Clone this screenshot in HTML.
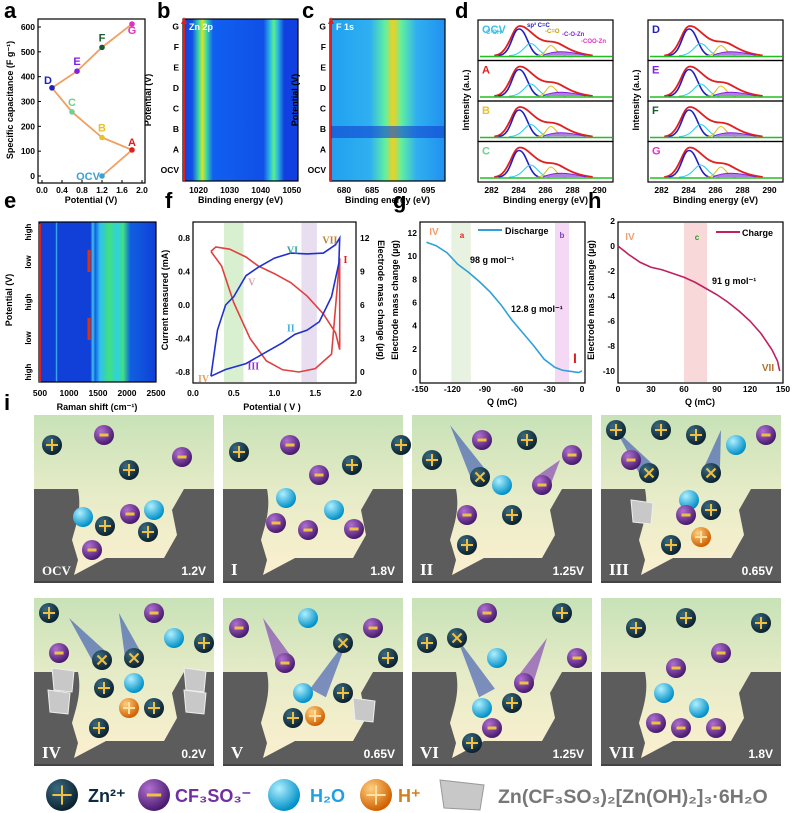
<!DOCTYPE html>
<html><head><meta charset="utf-8"><style>
body{margin:0;background:#fff;}
svg{display:block;font-family:"Liberation Sans",Arial,sans-serif;}
text{font-weight:bold;}
</style></head><body>
<svg id="fig" width="799" height="813" viewBox="0 0 799 813" xmlns="http://www.w3.org/2000/svg">
<defs>
<linearGradient id="zn" x1="0" x2="1" y1="0" y2="0">
<stop offset="0" stop-color="#1040e0"/><stop offset="0.08" stop-color="#1050e8"/><stop offset="0.14" stop-color="#40e0a0"/><stop offset="0.17" stop-color="#e0e020"/><stop offset="0.2" stop-color="#40e0a0"/><stop offset="0.26" stop-color="#1060f0"/><stop offset="0.7" stop-color="#1050e8"/><stop offset="0.76" stop-color="#30c0e0"/><stop offset="0.79" stop-color="#60f080"/><stop offset="0.82" stop-color="#30c0e0"/><stop offset="0.88" stop-color="#1040e0"/><stop offset="1" stop-color="#1040e0"/></linearGradient>
<linearGradient id="f1" x1="0" x2="1" y1="0" y2="0">
<stop offset="0" stop-color="#20a0f0"/><stop offset="0.35" stop-color="#30b0f0"/><stop offset="0.48" stop-color="#60f0a0"/><stop offset="0.55" stop-color="#f0d020"/><stop offset="0.62" stop-color="#60f0a0"/><stop offset="0.75" stop-color="#30b0f0"/><stop offset="1" stop-color="#2090f0"/></linearGradient>
<linearGradient id="ram" x1="0" x2="1" y1="0" y2="0">
<stop offset="0" stop-color="#1040d8"/><stop offset="0.14" stop-color="#1040d8"/><stop offset="0.15" stop-color="#40c0f0"/><stop offset="0.16" stop-color="#1040d8"/><stop offset="0.44" stop-color="#1040d8"/><stop offset="0.46" stop-color="#40c0f0"/><stop offset="0.48" stop-color="#1060e0"/><stop offset="0.52" stop-color="#30c0f0"/><stop offset="0.6" stop-color="#40e080"/><stop offset="0.67" stop-color="#30d0e0"/><stop offset="0.72" stop-color="#40e080"/><stop offset="0.78" stop-color="#1060e0"/><stop offset="1" stop-color="#1040d8"/></linearGradient>
<linearGradient id="sol" x1="0" x2="0" y1="0" y2="1"><stop offset="0" stop-color="#c8e2b8"/><stop offset="0.5" stop-color="#e8ecc8"/><stop offset="1" stop-color="#fdf0d0"/></linearGradient>
<radialGradient id="gZn" cx="0.35" cy="0.3" r="0.7"><stop offset="0" stop-color="#3a6a80"/><stop offset="1" stop-color="#0c2230"/></radialGradient>
<radialGradient id="gCF" cx="0.35" cy="0.3" r="0.7"><stop offset="0" stop-color="#b070d0"/><stop offset="1" stop-color="#4a1a70"/></radialGradient>
<radialGradient id="gW" cx="0.35" cy="0.3" r="0.7"><stop offset="0" stop-color="#b0f0ff"/><stop offset="1" stop-color="#0090c8"/></radialGradient>
<radialGradient id="gH" cx="0.35" cy="0.3" r="0.7"><stop offset="0" stop-color="#ffd080"/><stop offset="1" stop-color="#d06000"/></radialGradient>
</defs>
<g id="root"></g>
</svg>
<script>
// ---- data arrays ----
const aPot=[1.2,1.8,1.2,0.6,0.2,0.7,1.2,1.8];
const aCap=[0,105,155,258,355,422,518,612];
const aLbl=["OCV","A","B","C","D","E","F","G"];
const aCol=["#3aa0d8","#e02020","#e8c030","#70d090","#2020c0","#8020e0","#1a5a30","#e030c0"];
const aTicksX=[0.0,0.4,0.8,1.2,1.6,2.0];
const aTicksY=[0,100,200,300,400,500,600];
const fBlueV=[0.22,0.3,0.4,0.5,0.65,0.8,1.0,1.2,1.4,1.6,1.75,1.8,1.79,1.7,1.55,1.4,1.25,1.1,0.9,0.65,0.4,0.22];
const fBlueI=[-0.85,-0.3,0.0,0.1,0.35,0.45,0.56,0.62,0.61,0.62,0.72,0.8,0.5,0.1,-0.2,-0.3,-0.35,-0.45,-0.56,-0.7,-0.77,-0.85];
const fRedV=[0.22,0.28,0.45,0.65,0.8,1.0,1.2,1.4,1.6,1.75,1.8,1.8,1.7,1.5,1.3,1.1,0.9,0.7,0.5,0.35,0.22];
const fRedM=[10.8,11.2,11.0,10.3,9.5,8.8,8.0,6.8,5.2,3.5,2.0,10.2,1.6,0.3,0.0,0.2,1.0,3.0,6.2,9.5,10.8];
const gQ=[-144,-135,-125,-115,-105,-95,-85,-75,-65,-55,-45,-35,-25,-18,-10,-3,0];
const gM=[11.2,10.9,10.3,9.3,8.6,7.8,6.9,5.8,4.5,3.4,2.3,1.1,0.4,0.15,0.05,-0.05,0.1];
const hQ=[0,10,20,30,40,50,60,70,80,90,100,110,120,130,140,145,147];
const hM=[0,-0.7,-1.3,-1.7,-1.9,-2.2,-2.5,-2.9,-3.4,-3.9,-4.5,-5.2,-6.0,-7.0,-8.3,-9.2,-10];
const gTicksX=[-150,-120,-90,-60,-30,0];
const gTicksY=[0,2,4,6,8,10,12];
const hTicksX=[0,30,60,90,120,150];
const hTicksY=[0,-2,-4,-6,-8,-10,2];

const NS="http://www.w3.org/2000/svg";
const root=document.getElementById('root');
function el(tag,attrs,parent,txt){const e=document.createElementNS(NS,tag);for(const k in attrs)e.setAttribute(k,attrs[k]);if(txt!==undefined)e.textContent=txt;(parent||root).appendChild(e);return e;}
function T(x,y,s,sz,col,anchor,name,parent){const t=el('text',{x:x,y:y,'font-size':sz,fill:col||'#000','text-anchor':anchor||'middle'},parent,s);

return t;}
function box(x,y,w,h,name){const r=el('rect',{x:x,y:y,width:w,height:h,fill:'none',stroke:'#000','stroke-width':1.2});

return r;}

[["a",4,18],["b",157,18],["c",302,18],["d",455,18],["e",4,208],["f",165,208],["g",393,208],["h",588,208],["i",4,410]].forEach(p=>{T(p[1],p[2],p[0],22,'#000','start','panel-letter-'+p[0]);});

// ---- Panel a ----
const ax=v=>42+v/2*100, ay=v=>176-v/600*149;
box(38,19,107,164,'panel-a-frame');
aTicksX.forEach(v=>{el('line',{x1:ax(v),x2:ax(v),y1:183,y2:180,stroke:'#000'});T(ax(v),193,v.toFixed(1),8.5,'#000','middle','a-x-tick');});
aTicksY.forEach(v=>{el('line',{x1:38,x2:41,y1:ay(v),y2:ay(v),stroke:'#000'});T(35,ay(v)+3,v,8.5,'#000','end','a-y-tick');});
T(91,203,'Potential (V)',9,'#000','middle','a-x-title');
T(13,100,'Specific capacitance (F g\u207B\u00B9)',9,'#000','middle','a-y-title').setAttribute('transform','rotate(-90 13 100)');
let pa=aPot.map((p,i)=>(i?'L':'M')+ax(p)+','+ay(aCap[i])).join(' ');
const la=el('path',{d:pa,fill:'none',stroke:'#f0a060','stroke-width':1.8});


aPot.forEach((p,i)=>{const c=el('circle',{cx:ax(p),cy:ay(aCap[i]),r:2.8,fill:aCol[i]});


const dy=(i==1||i==0)? -4: (i==4? -4:-6);
T(ax(p)+(i==0?-14:(i==4?-4:0)),ay(aCap[i])+(i==0?4:(i==7?10:dy)),aLbl[i],11,aCol[i],'middle','a-point-label');});

// ---- Panel b, c heatmaps ----
function heat(x,w,grad,name,lbl,ticks,xr){
 const r=el('rect',{x:x,y:19,width:w,height:162,fill:'url(#'+grad+')'});
 
 
 box(x,19,w,162,name+'-frame');
 el('line',{x1:x+1,x2:x+1,y1:181,y2:22,stroke:'#e02020','stroke-width':2});
 el('path',{d:`M${x-2},24 L${x+1},17 L${x+4},24 Z`,fill:'#e02020'});
 T(x+6,30,lbl,9,'#fff','start',name+'-title');
 ["OCV","A","B","C","D","E","F","G"].forEach((s,i)=>T(x-4,173-i*20.5,s,8.5,'#000','end','potential-label'));
 T(x-32,100,'Potential (V)',9,'#000','middle','y-title').setAttribute('transform',`rotate(-90 ${x-32} 100)`);
 ticks.forEach(v=>{const px=x+(v-xr[0])/(xr[1]-xr[0])*w;T(px,193,v,8.5,'#000','middle','x-tick');});
 T(x+w/2,203,'Binding energy (eV)',9,'#000','middle','x-title');
}
heat(183,115,'zn','heatmap-zn2p','Zn 2p',[1020,1030,1040,1050],[1015,1052]);
heat(330,115,'f1','heatmap-f1s','F 1s',[680,685,690,695],[677.5,698]);
el('rect',{x:331,y:126,width:113,height:12,fill:'#1040d0',opacity:0.6});

// ---- Panel d XPS stacks ----
function xpsCol(x,w,labels,cols){
 const rowH=40.5;
 const ex=e=>x+(e-281)/10*w;
 for(let i=0;i<4;i++){
  const y=20+i*rowH;
  box(x,y,w,rowH,'xps-row');
  const base=y+rowH-5;
  el('path',{d:`M${ex(282.2)},${base} C${ex(283.3)},${base} ${ex(283.5)},${y+6} ${ex(284.1)},${y+6} C${ex(284.8)},${y+6} ${ex(285.2)},${base-14} ${ex(286.3)},${base-14} C${ex(287.3)},${base-14} ${ex(287.5)},${base-3} ${ex(289.5)},${base}`,fill:'none',stroke:'#e02020','stroke-width':1.8});
  el('path',{d:`M${ex(282.5)},${base} C${ex(283.5)},${base} ${ex(283.5)},${y+9} ${ex(284.05)},${y+9} C${ex(284.6)},${y+9} ${ex(284.8)},${base} ${ex(285.6)},${base}`,fill:'none',stroke:'#2020c0','stroke-width':1.6});
  el('path',{d:`M${ex(283.3)},${base} C${ex(284.3)},${base} ${ex(284.5)},${base-12} ${ex(284.9)},${base-12} C${ex(285.3)},${base-12} ${ex(285.6)},${base} ${ex(286.3)},${base}`,fill:'none',stroke:'#30d0f0','stroke-width':1.1});
  el('path',{d:`M${ex(285.4)},${base} C${ex(286)},${base} ${ex(286.1)},${base-10} ${ex(286.4)},${base-10} C${ex(286.7)},${base-10} ${ex(286.9)},${base} ${ex(287.5)},${base}`,fill:'none',stroke:'#e0c020','stroke-width':1.1});
  el('path',{d:`M${ex(285.8)},${base} C${ex(286.6)},${base-5} ${ex(287.5)},${base-5} ${ex(289)},${base}`,fill:'#b080e0',stroke:'#8020e0','stroke-width':1});
  el('line',{x1:x+2,x2:x+w-1,y1:base+1,y2:base+1,stroke:'#20c020','stroke-width':1.6});
  T(x+4,y+13,labels[i],11,cols[i],'start','xps-label');
 }
 [282,284,286,288,290].forEach(v=>T(ex(v),193,v,8.5,'#000','middle','d-x-tick'));
 T(x+w/2,203,'Binding energy (eV)',9,'#000','middle','d-x-title');
 T(x-9,100,'Intensity (a.u.)',9,'#000','middle','d-y-title').setAttribute('transform',`rotate(-90 ${x-9} 100)`);
}
xpsCol(478,135,["OCV","A","B","C"],["#3ac0e8","#e02020","#e8c030","#70d090"]);
xpsCol(648,135,["D","E","F","G"],["#2020c0","#8020e0","#1a5a30","#e030c0"]);
T(484,34,'-C-OH',6,'#3ac0e8','start','d-annot');T(527,27,'sp\u00B3 C=C',6,'#2020c0','start','d-annot');T(545,33,'-C=O',6,'#c0a000','start','d-annot');T(562,36,'-C-O-Zn',6,'#8020e0','start','d-annot');T(581,43,'-COO-Zn',6,'#e030c0','start','d-annot');

// ---- Panel e Raman ----
const er=el('rect',{x:39,y:222,width:117,height:160,fill:'url(#ram)'});


box(39,222,117,160,'panel-e-frame');
const ramX=v=>40+(v-500)/2000*116;
el('rect',{x:ramX(1345)-1.5,y:250,width:3,height:22,fill:'#e03010'});el('rect',{x:ramX(1345)-1.5,y:318,width:3,height:22,fill:'#e03010'});
el('line',{x1:40,x2:40,y1:382,y2:224,stroke:'#e02020','stroke-width':2});
[["high",232],["low",262],["high",302],["low",338],["high",372]].forEach(p=>T(31,p[1],p[0],8,'#000','middle','e-y-label').setAttribute('transform',`rotate(-90 31 ${p[1]})`));
[500,1000,1500,2000,2500].forEach(v=>T(ramX(v),396,v,8.5,'#000','middle','e-x-tick'));
T(97,410,'Raman shift (cm\u207B\u00B9)',9,'#000','middle','e-x-title');
T(12,300,'Potential (V)',9,'#000','middle','e-y-title').setAttribute('transform','rotate(-90 12 300)');

// ---- Panel f CV ----
const fx=v=>193+v/2*163, fy=v=>305-v/0.8*67, fm=v=>372-v/12*134;
box(193,222,163,161,'panel-f-frame');
el('rect',{x:fx(0.38),y:223,width:fx(0.62)-fx(0.38),height:159,fill:'#d8f0d0'});
el('rect',{x:fx(1.33),y:223,width:fx(1.52)-fx(1.33),height:159,fill:'#e8def0'});
[0,0.5,1,1.5,2].forEach(v=>T(fx(v),396,v.toFixed(1),8.5,'#000','middle','f-x-tick'));
[0.8,0.4,0,-0.4,-0.8].forEach(v=>T(190,fy(v)+3,v.toFixed(1),8.5,'#000','end','f-y-tick'));
[0,3,6,9,12].forEach(v=>T(360,fm(v)+3,v,8.5,'#000','start','f-y2-tick'));
T(272,410,'Potential ( V )',9,'#000','middle','f-x-title');
T(168,300,'Current measured (mA)',9,'#000','middle','f-y-title').setAttribute('transform','rotate(-90 168 300)');
T(378,300,'Electrode mass change (\u00B5g)',9,'#000','middle','f-y2-title').setAttribute('transform','rotate(90 378 300)');
const fr=el('path',{d:fRedV.map((v,i)=>(i?'L':'M')+fx(v)+','+fm(fRedM[i])).join(' '),fill:'none',stroke:'#e04040','stroke-width':1.6});


const fb=el('path',{d:fBlueV.map((v,i)=>(i?'L':'M')+fx(v)+','+fy(fBlueI[i])).join(' '),fill:'none',stroke:'#2030d0','stroke-width':1.6});


[["VI",1.22,0.66,'#30a0a0'],["VII",1.68,0.78,'#c08030'],["I",1.87,0.55,'#e02020'],["II",1.2,-0.27,'#40b0e0'],["III",0.74,-0.72,'#9030e0'],["IV",0.13,-0.87,'#e0a060'],["V",0.72,0.28,'#e0a0b0']].forEach(p=>T(fx(p[1]),fy(p[2])+4,p[0],10,p[3],'middle','f-state-label').setAttribute('font-family','Liberation Serif, serif'));

// ---- Panel g ----
const gx=v=>420+(v+150)/150*162, gy=v=>372-v/12*139;
box(420,222,165,161,'panel-g-frame');
el('rect',{x:gx(-121),y:223,width:gx(-103)-gx(-121),height:159,fill:'#e8f2e0'});
el('rect',{x:gx(-25),y:223,width:gx(-12)-gx(-25),height:159,fill:'#f4d8f4'});
gTicksX.forEach(v=>T(gx(v),392,v,8.5,'#000','middle','g-x-tick'));
gTicksY.forEach(v=>T(417,gy(v)+3,v,8.5,'#000','end','g-y-tick'));
T(502,405,'Q (mC)',9,'#000','middle','g-x-title');
T(398,300,'Electrode mass change (\u00B5g)',9,'#000','middle','g-y-title').setAttribute('transform','rotate(-90 398 300)');
const lg=el('path',{d:gQ.map((q,i)=>(i?'L':'M')+gx(q)+','+gy(gM[i])).join(' '),fill:'none',stroke:'#30a0d8','stroke-width':1.6});


el('line',{x1:478,x2:502,y1:230,y2:230,stroke:'#30a0d8','stroke-width':2});
T(505,234,'Discharge',9,'#000','start','g-legend');
T(434,235,'IV',10,'#f0a070','middle','g-iv');T(462,238,'a',8,'#e02020','middle','g-a');T(562,238,'b',8,'#8040c0','middle','g-b');
T(470,263,'98 g mol\u207B\u00B9',9,'#000','start','g-annot1');T(511,312,'12.8 g mol\u207B\u00B9',9,'#000','start','g-annot2');
T(575,363,'I',14,'#e02020','middle','g-i');

// ---- Panel h ----
const hx=v=>618+v/150*165;
const hyy=v=>246+(-v)/10*125;
box(618,222,165,161,'panel-h-frame');
el('rect',{x:hx(60),y:223,width:hx(81)-hx(60),height:159,fill:'#f8d8d8'});
hTicksX.forEach(v=>T(hx(v),392,v,8.5,'#000','middle','h-x-tick'));
hTicksY.forEach(v=>T(615,hyy(v)+3,v,8.5,'#000','end','h-y-tick'));
T(700,405,'Q (mC)',9,'#000','middle','h-x-title');
T(594,300,'Electrode mass change (\u00B5g)',9,'#000','middle','h-y-title').setAttribute('transform','rotate(-90 594 300)');
const lh=el('path',{d:hQ.map((q,i)=>(i?'L':'M')+hx(q)+','+hyy(hM[i])).join(' '),fill:'none',stroke:'#c02060','stroke-width':1.6});


el('line',{x1:716,x2:740,y1:232,y2:232,stroke:'#c02060','stroke-width':2});
T(742,236,'Charge',9,'#000','start','h-legend');
T(630,240,'IV',10,'#f0a070','middle','h-iv');T(697,240,'c',8,'#20a020','middle','h-c');
T(712,284,'91 g mol\u207B\u00B9',9,'#000','start','h-annot');T(768,371,'VII',10,'#b07030','middle','h-vii');

// ---- Panel i tiles ----
function ion(g,type,x,y,r){r=r||9;
 const c=el('circle',{cx:x,cy:y,r:r,fill:'url(#g'+type+')'},g);
 if(type=='Zn'){el('path',{d:`M${x-r*0.6},${y} H${x+r*0.6} M${x},${y-r*0.6} V${y+r*0.6}`,stroke:'#f0c040','stroke-width':2},g);}
 if(type=='X'){c.setAttribute('fill','url(#gZn)');el('path',{d:`M${x-r*0.45},${y-r*0.45} L${x+r*0.45},${y+r*0.45} M${x+r*0.45},${y-r*0.45} L${x-r*0.45},${y+r*0.45}`,stroke:'#f0c040','stroke-width':2},g);}
 if(type=='CF'){el('rect',{x:x-r*0.45,y:y-1.5,width:r*0.9,height:3,fill:'#f0c040'},g);}
 if(type=='H'){el('path',{d:`M${x-r*0.6},${y} H${x+r*0.6} M${x},${y-r*0.6} V${y+r*0.6}`,stroke:'#ffe0a0','stroke-width':2},g);}
 return c;}
function cone(g,x1,y1,x2,y2,col){const dx=x2-x1,dy=y2-y1,L=Math.hypot(dx,dy),nx=-dy/L*9,ny=dx/L*9;
 el('path',{d:`M${x1},${y1} L${x2+nx},${y2+ny} L${x2-nx},${y2-ny} Z`,fill:col,opacity:0.55},g);}
function salt(g,x,y){el('path',{d:`M${x},${y} L${x+22},${y+3} L${x+20},${y+24} L${x+2},${y+22} Z`,fill:'#c8c8c8',stroke:'#eee','stroke-width':1},g);}
const tiles=[
 {x:34,y:415,lbl:'OCV',v:'1.2V',cones:[],salts:[],ions:[['Zn',18,30],['CF',70,20],['Zn',95,55],['CF',148,42],['W',49,102],['Zn',71,111],['CF',96,99],['W',120,95],['Zn',114,117],['CF',58,135]]},
 {x:223,y:415,lbl:'I',v:'1.8V',cones:[],salts:[],ions:[['Zn',16,37],['CF',67,30],['CF',96,60],['Zn',129,50],['Zn',178,30],['W',63,83],['CF',53,108],['CF',85,115],['W',111,95],['CF',131,114]]},
 {x:412,y:415,lbl:'II',v:'1.25V',cones:[[38,10,68,62,'#2040b0'],[148,45,130,68,'#7020b0']],salts:[],ions:[['Zn',20,45],['CF',70,25],['Zn',115,25],['CF',160,40],['X',68,62],['CF',130,70],['W',90,70],['CF',55,100],['Zn',100,100],['Zn',55,130]]},
 {x:601,y:415,lbl:'III',v:'0.65V',cones:[[15,15,48,58,'#2040b0'],[120,15,110,58,'#2040b0']],salts:[[30,85]],ions:[['Zn',15,15],['Zn',60,15],['Zn',95,20],['CF',30,45],['W',135,30],['CF',165,20],['X',48,58],['X',110,58],['W',88,85],['Zn',110,95],['CF',85,100],['H',100,122],['Zn',70,130]]},
 {x:34,y:598,lbl:'IV',v:'0.2V',cones:[[35,20,68,62,'#2040b0'],[85,15,100,60,'#2040b0']],salts:[[18,70],[14,92],[150,70],[150,92]],ions:[['Zn',15,15],['CF',25,55],['CF',120,15],['X',68,62],['X',100,60],['W',140,40],['Zn',170,45],['Zn',70,90],['W',100,85],['H',95,110],['Zn',120,110],['Zn',65,130]]},
 {x:223,y:598,lbl:'V',v:'0.65V',cones:[[40,20,62,65,'#7020b0'],[125,40,95,95,'#2040b0']],salts:[[130,100]],ions:[['CF',16,30],['W',85,20],['X',120,45],['CF',62,65],['CF',150,30],['Zn',165,60],['W',80,95],['Zn',120,95],['Zn',70,120],['H',92,118]]},
 {x:412,y:598,lbl:'VI',v:'1.25V',cones:[[45,40,75,95,'#2040b0'],[135,40,112,85,'#7020b0']],salts:[],ions:[['Zn',15,45],['CF',75,15],['Zn',150,15],['X',45,40],['W',85,60],['CF',112,85],['CF',165,60],['W',70,110],['Zn',100,105],['CF',80,130],['Zn',60,145]]},
 {x:601,y:598,lbl:'VII',v:'1.8V',cones:[],salts:[],ions:[['Zn',35,30],['Zn',85,20],['Zn',160,25],['CF',120,55],['CF',75,70],['W',63,95],['W',98,110],['CF',55,125],['CF',80,130],['CF',115,130]]},
];
tiles.forEach((t,ti)=>{
 const g=el('g',{transform:`translate(${t.x},${t.y})`});
 
 
 el('rect',{x:0,y:0,width:180,height:168,fill:'url(#sol)'},g);
 el('path',{d:'M0,74 H44 C48,95 42,110 38,125 L44,145 L40,160 L72,143 H130 L143,120 L138,95 L150,74 H180 V168 H0 Z',fill:'#5c5c5c'},g);
 el('rect',{x:0,y:166,width:180,height:2,fill:'#444'},g);
 t.cones.forEach(c=>cone(g,c[0],c[1],c[2],c[3],c[4]));
 t.salts.forEach(s=>salt(g,s[0],s[1]));
 t.ions.forEach(i=>ion(g,i[0],i[1],i[2],10));
 T(8,160,t.lbl,t.lbl=='OCV'?13:17,'#fff','start','tile-state',g).setAttribute('font-family','Liberation Serif, serif');
 T(172,160,t.v,12,'#fff','end','tile-voltage',g);
});

// legend
const lgd=el('g',{});


ion(lgd,'Zn',62,795,16);T(88,802,'Zn\u00B2\u207A',18,'#0c2a44','start','legend-zn',lgd);
ion(lgd,'CF',154,795,16);T(175,802,'CF\u2083SO\u2083\u207B',18,'#7030a0','start','legend-cf3so3',lgd);
ion(lgd,'W',284,795,16);T(310,802,'H\u2082O',18,'#20a0e0','start','legend-h2o',lgd);
ion(lgd,'H',376,795,16);T(398,802,'H\u207A',18,'#d08020','start','legend-h',lgd);
el('path',{d:'M440,780 L484,785 L480,810 L444,808 Z',fill:'#c8c8c8',stroke:'#999'},lgd);
T(498,803,'Zn(CF\u2083SO\u2083)\u2082[Zn(OH)\u2082]\u2083\u00B76H\u2082O',19.5,'#777','start','legend-salt',lgd);
</script>
</body></html>
